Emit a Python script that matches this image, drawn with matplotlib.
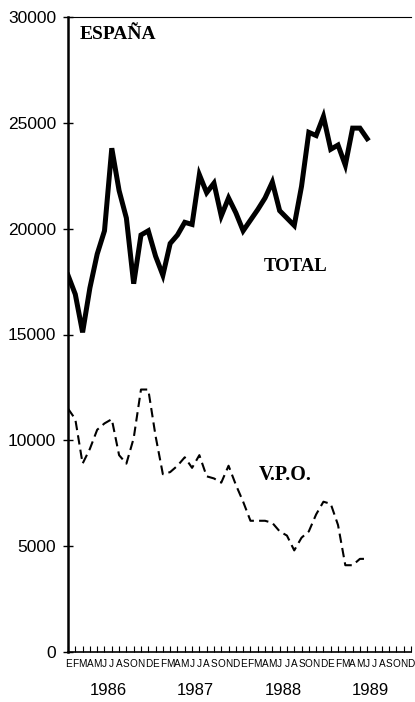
import matplotlib
matplotlib.use("Agg")
import matplotlib.pyplot as plt
import matplotlib.transforms as mtransforms

# monthly data, Jan 1986 - Jun 1989
total = [17800, 16900, 15100, 17200, 18800, 19900, 23800, 21800, 20500, 17400,
         19700, 19900, 18700, 17800, 19300, 19700, 20300, 20200, 22550, 21700,
         22150, 20600, 21450, 20750, 19900, 20400, 20900, 21450, 22200, 20850,
         20500, 20150, 22000, 24550, 24400, 25300, 23750, 23950, 23000, 24750,
         24750, 24250]
vpo = [11500, 11000, 8900, 9600, 10500, 10800, 11000, 9300, 8900, 10100,
       12400, 12400, 10200, 8400, 8500, 8800, 9200, 8700, 9300, 8300,
       8200, 8000, 8800, 7900, 7100, 6200, 6200, 6200, 6100, 5700,
       5500, 4800, 5400, 5700, 6500, 7100, 7000, 6000, 4100, 4100,
       4400, 4400]
month_letters = list("EFMAMJJASOND") * 4
years = ["1986", "1987", "1988", "1989"]
yticks = [0, 5000, 10000, 15000, 20000, 25000, 30000]

fig = plt.figure(figsize=(4.15, 7.02), dpi=100)
ax = fig.add_axes([68 / 415, 1 - 652 / 702, 343 / 415, 635 / 702])

months = list(range(len(total)))
ax.plot(months, total, color="black", lw=3.6, solid_joinstyle="miter")
ax.plot(months, vpo, color="black", lw=1.5, dashes=(4.5, 2.5))

ax.set_xlim(0, 47)
ax.set_ylim(0, 30000)

ax.spines["right"].set_visible(False)
ax.spines["left"].set_linewidth(1.8)
ax.spines["bottom"].set_linewidth(1.2)
ax.spines["top"].set_linewidth(0.8)

ax.set_yticks(yticks)
ax.set_yticklabels([str(v) for v in yticks], family="Liberation Sans", fontsize=12.5)
ax.tick_params(axis="y", direction="inout", length=7, width=1, pad=5)

ax.set_xticks(range(48))
ax.set_xticklabels(month_letters, family="Liberation Sans", fontsize=7.2)
ax.tick_params(axis="x", direction="in", length=4, width=0.8, pad=5)

trans = mtransforms.blended_transform_factory(ax.transData, ax.transAxes)
for k, yr in enumerate(years):
    ax.text(12 * k + 5.5, -0.06, yr, transform=trans, ha="center", va="center",
            family="Liberation Sans", fontsize=12)

ax.text(1.6, 29150, "ESPAÑA", family="Liberation Serif", fontweight="bold",
        fontsize=14, ha="left", va="center")
ax.text(31.2, 18210, "TOTAL", family="Liberation Serif", fontweight="bold",
        fontsize=13.5, ha="center", va="center")
ax.text(29.8, 8380, "V.P.O.", family="Liberation Serif", fontweight="bold",
        fontsize=14.5, ha="center", va="center")

fig.savefig("out.png", dpi=100, facecolor="white")
